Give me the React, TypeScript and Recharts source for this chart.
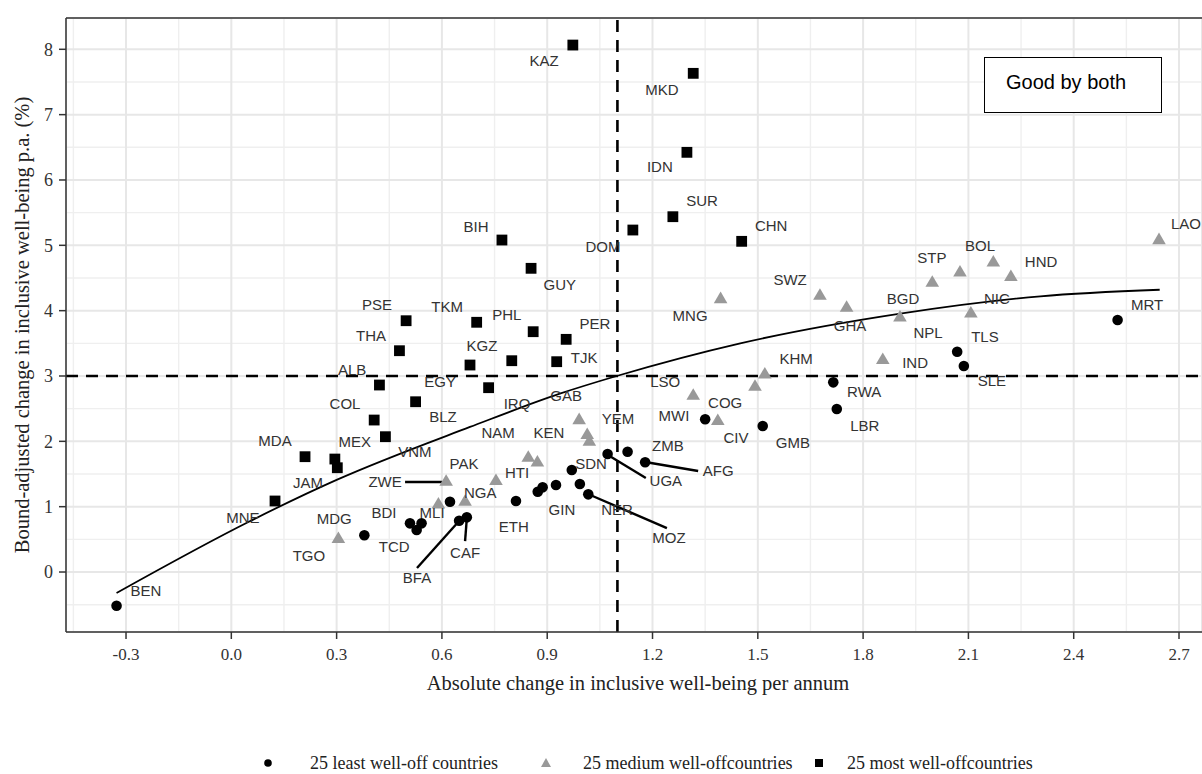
import React from "react";
import { ComposedChart, Scatter, Line, XAxis, YAxis, CartesianGrid, ReferenceLine } from "recharts";

// 25 least well-off countries (circles)
const leastWellOff = [
  { x: -0.327, y: -0.516 }, { x: 0.379, y: 0.562 }, { x: 0.509, y: 0.745 }, { x: 0.542, y: 0.745 },
  { x: 0.528, y: 0.643 }, { x: 0.623, y: 1.076 }, { x: 0.649, y: 0.785 }, { x: 0.671, y: 0.837 },
  { x: 0.811, y: 1.087 }, { x: 0.873, y: 1.229 }, { x: 0.887, y: 1.296 }, { x: 0.925, y: 1.331 },
  { x: 0.97, y: 1.561 }, { x: 0.993, y: 1.347 }, { x: 1.017, y: 1.189 }, { x: 1.072, y: 1.806 },
  { x: 1.129, y: 1.841 }, { x: 1.179, y: 1.679 }, { x: 1.35, y: 2.337 }, { x: 1.514, y: 2.234 },
  { x: 1.715, y: 2.903 }, { x: 1.725, y: 2.495 }, { x: 2.068, y: 3.372 }, { x: 2.087, y: 3.153 },
  { x: 2.525, y: 3.857 },
];

// 25 medium well-off countries (triangles)
const mediumWellOff = [
  { x: 2.643, y: 5.107 }, { x: 2.171, y: 4.764 }, { x: 2.076, y: 4.611 }, { x: 1.997, y: 4.454 },
  { x: 2.221, y: 4.541 }, { x: 1.677, y: 4.255 }, { x: 1.753, y: 4.071 }, { x: 1.905, y: 3.923 },
  { x: 2.107, y: 3.984 }, { x: 1.856, y: 3.271 }, { x: 1.52, y: 3.05 }, { x: 1.492, y: 2.862 },
  { x: 1.394, y: 4.204 }, { x: 1.316, y: 2.724 }, { x: 1.386, y: 2.337 }, { x: 0.991, y: 2.352 },
  { x: 1.014, y: 2.123 }, { x: 1.02, y: 2.02 }, { x: 0.846, y: 1.775 }, { x: 0.872, y: 1.703 },
  { x: 0.754, y: 1.419 }, { x: 0.612, y: 1.408 }, { x: 0.666, y: 1.102 }, { x: 0.59, y: 1.061 },
  { x: 0.305, y: 0.531 },
];

// 25 most well-off countries (squares)
const mostWellOff = [
  { x: 0.973, y: 8.065 }, { x: 1.316, y: 7.632 }, { x: 1.298, y: 6.423 }, { x: 1.258, y: 5.438 },
  { x: 1.144, y: 5.234 }, { x: 1.454, y: 5.061 }, { x: 0.771, y: 5.081 }, { x: 0.854, y: 4.648 },
  { x: 0.498, y: 3.846 }, { x: 0.699, y: 3.822 }, { x: 0.86, y: 3.678 }, { x: 0.954, y: 3.561 },
  { x: 0.479, y: 3.387 }, { x: 0.799, y: 3.234 }, { x: 0.68, y: 3.168 }, { x: 0.927, y: 3.219 },
  { x: 0.422, y: 2.862 }, { x: 0.733, y: 2.821 }, { x: 0.525, y: 2.606 }, { x: 0.407, y: 2.326 },
  { x: 0.439, y: 2.071 }, { x: 0.21, y: 1.765 }, { x: 0.295, y: 1.729 }, { x: 0.302, y: 1.596 },
  { x: 0.1245, y: 1.087 },
];

// smoothed fit
const fitCurve = [
  { x: -0.327, y: -0.32 }, { x: 0.05, y: 0.77 }, { x: 0.3, y: 1.41 }, { x: 0.68, y: 2.22 },
  { x: 0.936, y: 2.73 }, { x: 1.098, y: 3.0 }, { x: 1.45, y: 3.5 }, { x: 1.906, y: 3.955 },
  { x: 2.305, y: 4.22 }, { x: 2.645, y: 4.32 },
];

// repelled label positions (data units)
const countryLabels = [
  { code: "KAZ", x: 0.891, y: 7.821 }, { code: "MKD", x: 1.227, y: 7.377 }, { code: "IDN", x: 1.221, y: 6.198 },
  { code: "SUR", x: 1.341, y: 5.678 }, { code: "DOM", x: 1.059, y: 4.974 }, { code: "CHN", x: 1.538, y: 5.295 },
  { code: "BIH", x: 0.697, y: 5.28 }, { code: "GUY", x: 0.936, y: 4.392 }, { code: "PSE", x: 0.415, y: 4.086 },
  { code: "TKM", x: 0.615, y: 4.056 }, { code: "PHL", x: 0.785, y: 3.933 }, { code: "PER", x: 1.036, y: 3.796 },
  { code: "THA", x: 0.398, y: 3.612 }, { code: "KGZ", x: 0.714, y: 3.459 }, { code: "TJK", x: 1.005, y: 3.275 },
  { code: "ALB", x: 0.344, y: 3.092 }, { code: "EGY", x: 0.595, y: 2.908 }, { code: "IRQ", x: 0.814, y: 2.571 },
  { code: "COL", x: 0.324, y: 2.571 }, { code: "BLZ", x: 0.603, y: 2.372 }, { code: "NAM", x: 0.76, y: 2.127 },
  { code: "KEN", x: 0.905, y: 2.127 }, { code: "MEX", x: 0.352, y: 1.99 }, { code: "VNM", x: 0.523, y: 1.837 },
  { code: "MDA", x: 0.1245, y: 2.005 }, { code: "JAM", x: 0.2185, y: 1.362 }, { code: "MNE", x: 0.033, y: 0.826 },
  { code: "MDG", x: 0.293, y: 0.811 }, { code: "TGO", x: 0.221, y: 0.245 }, { code: "BDI", x: 0.435, y: 0.903 },
  { code: "TCD", x: 0.464, y: 0.383 }, { code: "MLI", x: 0.572, y: 0.903 }, { code: "ZWE", x: 0.438, y: 1.377 },
  { code: "PAK", x: 0.663, y: 1.653 }, { code: "HTI", x: 0.814, y: 1.515 }, { code: "NGA", x: 0.709, y: 1.209 },
  { code: "BFA", x: 0.529, y: -0.092 }, { code: "CAF", x: 0.666, y: 0.291 }, { code: "ETH", x: 0.805, y: 0.689 },
  { code: "GIN", x: 0.942, y: 0.949 }, { code: "SDN", x: 1.025, y: 1.653 }, { code: "NER", x: 1.099, y: 0.949 },
  { code: "MOZ", x: 1.247, y: 0.52 }, { code: "UGA", x: 1.238, y: 1.393 }, { code: "ZMB", x: 1.244, y: 1.928 },
  { code: "AFG", x: 1.387, y: 1.546 }, { code: "YEM", x: 1.102, y: 2.342 }, { code: "GAB", x: 0.954, y: 2.694 },
  { code: "LSO", x: 1.236, y: 2.908 }, { code: "COG", x: 1.407, y: 2.586 }, { code: "MWI", x: 1.261, y: 2.388 },
  { code: "CIV", x: 1.438, y: 2.051 }, { code: "GMB", x: 1.6, y: 1.974 }, { code: "KHM", x: 1.609, y: 3.26 },
  { code: "MNG", x: 1.307, y: 3.918 }, { code: "SWZ", x: 1.592, y: 4.469 }, { code: "GHA", x: 1.763, y: 3.765 },
  { code: "BGD", x: 1.914, y: 4.178 }, { code: "NPL", x: 1.985, y: 3.658 }, { code: "IND", x: 1.948, y: 3.199 },
  { code: "STP", x: 1.996, y: 4.806 }, { code: "BOL", x: 2.133, y: 4.989 }, { code: "HND", x: 2.307, y: 4.744 },
  { code: "NIC", x: 2.181, y: 4.178 }, { code: "TLS", x: 2.147, y: 3.597 }, { code: "SLE", x: 2.167, y: 2.923 },
  { code: "RWA", x: 1.803, y: 2.755 }, { code: "LBR", x: 1.805, y: 2.234 }, { code: "MRT", x: 2.609, y: 4.086 },
  { code: "LAO", x: 2.72, y: 5.326 }, { code: "BEN", x: -0.243, y: -0.291 },
];

// label leader segments [from point, to label]
const leaderLines = [
  [{ x: 0.6, y: 1.377 }, { x: 0.495, y: 1.377 }],
  [{ x: 0.649, y: 0.781 }, { x: 0.529, y: 0.061 }],
  [{ x: 0.671, y: 0.826 }, { x: 0.666, y: 0.474 }],
  [{ x: 1.073, y: 1.791 }, { x: 1.181, y: 1.439 }],
  [{ x: 1.179, y: 1.683 }, { x: 1.33, y: 1.546 }],
  [{ x: 1.016, y: 1.194 }, { x: 1.241, y: 0.673 }],
];

const xTicks = [-0.3, 0, 0.3, 0.6, 0.9, 1.2, 1.5, 1.8, 2.1, 2.4, 2.7];
const yTicks = [0, 1, 2, 3, 4, 5, 6, 7, 8];
const minorXTicks = [-0.45, -0.15, 0.15, 0.45, 0.75, 1.05, 1.35, 1.65, 1.95, 2.25, 2.55];
const minorYTicks = [-0.5, 0.5, 1.5, 2.5, 3.5, 4.5, 5.5, 6.5, 7.5];
const xDomain: [number, number] = [-0.471, 2.7655];
const yDomain: [number, number] = [-0.918, 8.479];

const SERIF = "'Liberation Serif', 'Times New Roman', serif";
const SANS = "'Liberation Sans', Arial, Helvetica, sans-serif";

const applyScale = (scale: any, v: number) =>
  typeof scale === "function" ? scale(v) : scale?.map ? scale.map(v) : v;

const Dot = (p: any) => <circle cx={p.cx} cy={p.cy} r={5.3} fill="#000" />;
const Tri = (p: any) => {
  const w = 13.6, h = 11.6;
  return (
    <polygon
      points={`${p.cx},${p.cy - h / 2} ${p.cx + w / 2},${p.cy + h / 2} ${p.cx - w / 2},${p.cy + h / 2}`}
      fill="#999"
    />
  );
};
const Sq = (p: any) => <rect x={p.cx - 5.4} y={p.cy - 5.4} width={10.8} height={10.8} fill="#000" />;
const Tag = (p: any) => (
  <text x={p.cx} y={p.cy} dy="0.36em" textAnchor="middle" fontFamily={SANS} fontSize={15} fill="#333">
    {p.payload.code}
  </text>
);

const XTick = (p: any) => (
  <text x={p.x} y={p.y} dy="0.71em" textAnchor="middle" fontFamily={SERIF} fontSize={17} fill="#333">
    {Number(p.payload.value).toFixed(1)}
  </text>
);
const YTick = (p: any) => (
  <text x={p.x} y={p.y} dy="0.35em" textAnchor="end" fontFamily={SERIF} fontSize={18} fill="#333">
    {p.payload.value}
  </text>
);

const legendText: React.CSSProperties = {
  position: "absolute", top: 753, fontFamily: SERIF, fontSize: 18, color: "#222", lineHeight: "20px", whiteSpace: "nowrap",
};

export default function App() {
  return (
    <div style={{ position: "absolute", left: 0, top: 0, width: 1202, height: 774, overflow: "hidden", background: "#fff" }}>
      <ComposedChart width={1202} height={774} margin={{ top: 18, right: 0, bottom: 102, left: 0 }}>
        <CartesianGrid
          stroke="#efefef"
          strokeWidth={1.4}
          verticalCoordinatesGenerator={({ xAxis }: any) => minorXTicks.map((v) => applyScale(xAxis?.scale, v))}
          horizontalCoordinatesGenerator={({ yAxis }: any) => minorYTicks.map((v) => applyScale(yAxis?.scale, v))}
        />
        <CartesianGrid stroke="#e7e7e7" strokeWidth={2} />
        <XAxis
          type="number"
          dataKey="x"
          domain={xDomain}
          allowDataOverflow
          ticks={xTicks}
          tick={<XTick />}
          tickSize={7}
          tickMargin={9}
          height={40}
          axisLine={{ stroke: "#333", strokeWidth: 1.5 }}
          tickLine={{ stroke: "#333", strokeWidth: 1.5 }}
        />
        <YAxis
          type="number"
          dataKey="y"
          domain={yDomain}
          allowDataOverflow
          ticks={yTicks}
          tick={<YTick />}
          tickSize={7}
          tickMargin={6}
          width={66}
          axisLine={{ stroke: "#333", strokeWidth: 1.5 }}
          tickLine={{ stroke: "#333", strokeWidth: 1.5 }}
        />
        <ReferenceLine y={yDomain[1]} stroke="#333" strokeWidth={1.5} />
        <ReferenceLine x={1.1} stroke="#000" strokeWidth={2.6} strokeDasharray="12 8" />
        <ReferenceLine y={3} stroke="#000" strokeWidth={2.6} strokeDasharray="12 8" />
        <Line data={fitCurve} dataKey="y" type="monotone" stroke="#000" strokeWidth={1.8} dot={false} isAnimationActive={false} />
        {leaderLines.map((seg, i) => (
          <ReferenceLine key={i} segment={seg} stroke="#000" strokeWidth={2.4} />
        ))}
        <Scatter data={mediumWellOff} dataKey="y" shape={<Tri />} isAnimationActive={false} />
        <Scatter data={mostWellOff} dataKey="y" shape={<Sq />} isAnimationActive={false} />
        <Scatter data={leastWellOff} dataKey="y" shape={<Dot />} isAnimationActive={false} />
        <Scatter data={countryLabels} dataKey="y" shape={<Tag />} isAnimationActive={false} />
      </ComposedChart>

      <div
        style={{
          position: "absolute", left: 984, top: 57, width: 176, height: 54, border: "1.5px solid #000",
          background: "#fff", fontFamily: SANS, fontSize: 20, color: "#000", boxSizing: "content-box",
        }}
      >
        <div style={{ position: "absolute", left: 21, top: 13 }}>Good by both</div>
      </div>

      <div
        style={{
          position: "absolute", left: 22 - 300, top: 325 - 13, width: 600, height: 26, textAlign: "center",
          transform: "rotate(-90deg)", fontFamily: SERIF, fontSize: 20.5, color: "#222", lineHeight: "26px",
        }}
      >
        Bound-adjusted change in inclusive well-being p.a. (%)
      </div>
      <div
        style={{
          position: "absolute", left: 638 - 300, top: 683 - 13, width: 600, height: 26, textAlign: "center",
          fontFamily: SERIF, fontSize: 20.5, color: "#222", lineHeight: "26px",
        }}
      >
        Absolute change in inclusive well-being per annum
      </div>

      <svg style={{ position: "absolute", left: 0, top: 753 }} width={1202} height={20}>
        <circle cx={268} cy={10} r={3.8} fill="#000" />
        <polygon points="546,5 551,14 541,14" fill="#999" />
        <rect x={815} y={6} width={8} height={8} fill="#000" />
      </svg>
      <div style={{ ...legendText, left: 310 }}>25 least well-off countries</div>
      <div style={{ ...legendText, left: 583 }}>25 medium well-offcountries</div>
      <div style={{ ...legendText, left: 847 }}>25 most well-offcountries</div>
    </div>
  );
}
